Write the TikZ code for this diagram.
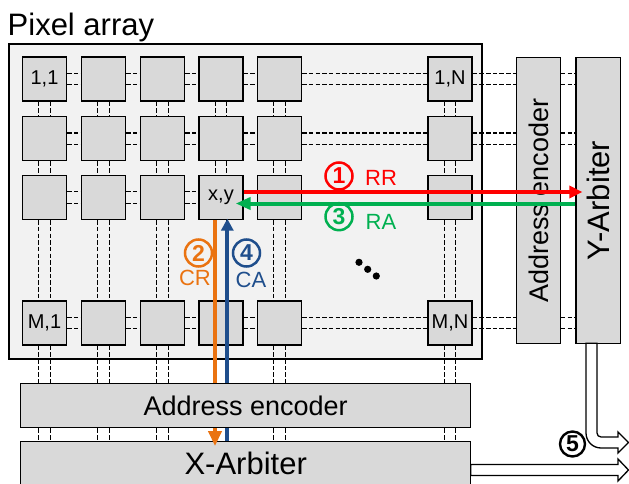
\documentclass[tikz,border=0pt]{standalone}
\usepackage{fontspec}
\setmainfont{Liberation Sans}
\usepackage{graphicx}
\usetikzlibrary{arrows.meta,calc}
\definecolor{cellgray}{HTML}{D9D9D9}
\definecolor{arraybg}{HTML}{F2F2F2}
\definecolor{rrred}{HTML}{FF0000}
\definecolor{ragreen}{HTML}{00B050}
\definecolor{crorange}{HTML}{EA7311}
\definecolor{cablue}{HTML}{1F4E8C}
\newcommand{\myfs}[1]{\fontsize{#1pt}{#1pt}\selectfont}
\begin{document}
\begin{tikzpicture}[x=1pt,y=-1pt,
  cell/.style={draw, line width=1.3pt, fill=cellgray, minimum size=44pt, inner sep=0pt, font=\myfs{20}},
  blk/.style={draw, line width=1.3pt, fill=cellgray, inner sep=0pt},
  dsh/.style={dash pattern=on 4.5pt off 2.2pt, line width=1.1pt},
  sig/.style={line width=4pt},
  num/.style={circle, draw, line width=2.5pt, minimum size=27pt, inner sep=0pt, font=\myfs{23}\bfseries},
  siglbl/.style={inner sep=0pt, font=\myfs{22}},
  outarrow/.style={draw, fill=white, line width=1.3pt, line join=miter}
]
\useasboundingbox (0,0) rectangle (629,484);
% pixel array frame
\node[draw, line width=1.6pt, fill=arraybg, minimum width=473pt, minimum height=315pt, inner sep=0pt] (pa) at (245.5,201.5) {};
\node[anchor=base west, inner sep=0pt, font=\myfs{31}] (patitle) at (7.5,36) {Pixel array};
% side blocks
\node[blk, minimum width=43.6pt, minimum height=285.6pt] (encv) at (538.5,200.5) {\rotatebox{90}{\myfs{27}Address encoder}};
\node[blk, minimum width=44.3pt, minimum height=285.6pt] (yarb) at (598.2,200.5) {\rotatebox{90}{\myfs{31}Y-Arbiter}};
\node[blk, minimum width=450pt, minimum height=44.3pt, font=\myfs{31}] (xarb) at (245.7,463.9) {X-Arbiter};
% cells
\foreach \n/\x/\y/\t in {
  c11/44.5/79/{1,1}, c12/103.5/79/{}, c13/162.5/79/{}, c14/221/79/{}, c15/279.5/79/{}, c16/450/79/{1,N},
  c21/44.5/138.7/{}, c22/103.5/138.7/{}, c23/162.5/138.7/{}, c24/221/138.7/{}, c25/279.5/138.7/{}, c26/450/138.7/{},
  c31/44.5/197.5/{}, c32/103.5/197.5/{}, c33/162.5/197.5/{}, c34/221/197.5/{x,y}, c35/279.5/197.5/{}, c36/450/197.5/{},
  c41/44.5/323/{M,1}, c42/103.5/323/{}, c43/162.5/323/{}, c44/221/323/{}, c45/279.5/323/{}, c46/450/323/{M,N}}
  {\node[cell] (\n) at (\x,\y) {\t};}
% horizontal dashed buses
\foreach \r in {1,2,3,4}{
  \foreach \a/\b in {1/2,2/3,3/4,4/5,5/6}{
    \foreach \s in {5.7pt,-5.7pt}{
      \draw[dsh] ([yshift=\s]c\r\a.east) -- ([yshift=\s]c\r\b.west);
    }
  }
  \foreach \s in {5.7pt,-5.7pt}{
    \draw[dsh] ([yshift=\s]c\r6.east) -- ([yshift=\s]c\r6.east -| encv.west);
    \draw[dsh] ([yshift=\s]c\r6.east -| encv.east) -- ([yshift=\s]c\r6.east -| yarb.west);
  }
}
% vertical dashed buses
\foreach \c in {1,2,3,4,5,6}{
  \foreach \a/\b in {1/2,2/3,3/4}{
    \foreach \s in {5.7pt,-5.7pt}{
      \draw[dsh] ([xshift=\s]c\a\c.south) -- ([xshift=\s]c\b\c.north);
    }
  }
}
% dots
\foreach \n/\x/\y in {d1/359/262.3, d2/367.7/269.3, d3/376.3/276}
  {\fill (\x,\y) circle[radius=3.6pt];}
% column request / acknowledge
\draw[sig, crorange, -{Triangle[length=15pt,width=13pt]}, shorten >=-5pt] ([xshift=-6pt]c34.south) -- ([xshift=-6pt]c34.south |- xarb.north);
\draw[sig, cablue, -{Triangle[length=12pt,width=12pt]}, shorten >=-1.5pt] ([xshift=6.3pt]c34.south |- xarb.north) -- ([xshift=6.3pt]c34.south);
% horizontal address encoder on top of the column lines
\node[blk, minimum width=450pt, minimum height=44.4pt, font=\myfs{27}] (ench) at (245.7,405.5) {Address encoder};
\foreach \c in {1,2,3,5,6}{
  \foreach \s in {5.7pt,-5.7pt}{
    \draw[dsh] ([xshift=\s]c4\c.south) -- ([xshift=\s]c4\c.south |- ench.north);
    \draw[dsh] ([xshift=\s]c4\c.south |- ench.south) -- ([xshift=\s]c4\c.south |- xarb.north);
  }
}
% row request / acknowledge
\draw[sig, rrred, -{Triangle[length=13pt,width=12pt]}, shorten >=-7pt] ([yshift=5.5pt]c34.east) -- ([yshift=5.5pt]c34.east -| yarb.west);
\draw[sig, ragreen, -{Triangle[length=15pt,width=12pt]}, shorten >=-8pt] ([yshift=-6pt]c34.east -| yarb.west) -- ([yshift=-6pt]c34.east);
% numbered labels
\node[num, draw=rrred, text=rrred] (n1) at (339,176) {1};
\node[siglbl, text=rrred] (lrr) at (381,178.3) {RR};
\node[num, draw=ragreen, text=ragreen] (n3) at (339,216.7) {3};
\node[siglbl, text=ragreen] (lra) at (381,222) {RA};
\node[num, draw=crorange, text=crorange] (n2) at (198.5,253) {2};
\node[siglbl, text=crorange] (lcr) at (195,278.3) {CR};
\node[num, draw=cablue, text=cablue] (n4) at (246.5,253) {4};
\node[siglbl, text=cablue] (lca) at (251,280) {CA};
\node[num, minimum size=25pt, line width=2.4pt] (n5) at (572.5,444) {5};
% output arrows
\draw[outarrow] (597,343.3) -- (597,433) arc[start angle=180,end angle=270,radius=4pt] -- (618,437) -- (618,432) -- (628.5,442.5) -- (618,453) -- (618,448) -- (601,448) arc[start angle=270,end angle=180,radius=15pt] -- (586,343.3) -- cycle;
\draw[outarrow] (470.7,464.5) -- (618,464.5) -- (618,459) -- (628.5,470) -- (618,481) -- (618,475.5) -- (470.7,475.5) -- cycle;
\end{tikzpicture}
\end{document}
